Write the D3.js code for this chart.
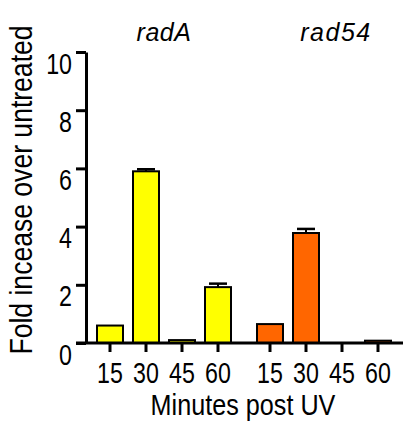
<!DOCTYPE html>
<html>
<head>
<meta charset="utf-8">
<script src="https://cdn.jsdelivr.net/npm/d3@7"></script>
<style>
  html, body { margin: 0; padding: 0; background: #fff; }
  svg { display: block; }
  text { font-family: "Liberation Sans", Arial, sans-serif; fill: #000; }
</style>
</head>
<body>
<svg id="chart" width="403" height="421"></svg>
<script>
// data
const genes = ["radA", "rad54"];
const minutes = [15, 30, 45, 60];
const radAValues = [0.6, 5.9, 0.1, 1.92];
const radAErrors = [0, 0.07, 0, 0.12];
const rad54Values = [0.65, 3.78, 0, 0.08];
const rad54Errors = [0, 0.14, 0, 0];
const yTicks = [0, 2, 4, 6, 8, 10];
const geneColors = ["#ffff00", "#ff6600"];

const data = [];
genes.forEach((g, gi) => {
    const vals = gi === 0 ? radAValues : rad54Values;
    const errs = gi === 0 ? radAErrors : rad54Errors;
    minutes.forEach((m, i) => data.push({gene: g, minute: m, value: vals[i], err: errs[i]}));
});

const svg = d3.select("#chart");
const width = 403, height = 421;
const axisX = 86, x0 = 92, x1 = 396;
const yBottom = 343, yTop = 52;
const squeeze = 0.8; // narrow font look

svg.append("rect").attr("width", width).attr("height", height).attr("fill", "#fff");

const fx = d3.scaleBand().domain(genes).range([x0, x1]).paddingInner(0.1).paddingOuter(0);
const x = d3.scaleBand().domain(minutes).range([0, fx.bandwidth()])
    .paddingInner(8 / 36).paddingOuter(4 / 36);
const y = d3.scaleLinear().domain([0, 10]).range([yBottom, yTop]);
const color = d3.scaleOrdinal().domain(genes).range(geneColors);

// bars
const groups = svg.append("g")
    .selectAll("g")
    .data(d3.group(data, d => d.gene))
    .join("g")
    .attr("transform", ([g]) => `translate(${fx(g)},0)`);

groups.selectAll("rect")
    .data(([, d]) => d.filter(v => v.value > 0))
    .join("rect")
    .attr("x", d => x(d.minute) + 1)
    .attr("y", d => y(d.value))
    .attr("width", x.bandwidth() - 2)
    .attr("height", d => y(0) - y(d.value))
    .attr("fill", d => color(d.gene))
    .attr("stroke", "#000")
    .attr("stroke-width", 2);

// error bars
const eb = groups.selectAll("g.err")
    .data(([, d]) => d.filter(v => v.err > 0))
    .join("g").attr("class", "err");
eb.append("line")
    .attr("x1", d => x(d.minute) + x.bandwidth() / 2)
    .attr("x2", d => x(d.minute) + x.bandwidth() / 2)
    .attr("y1", d => y(d.value))
    .attr("y2", d => y(d.value + d.err))
    .attr("stroke", "#000").attr("stroke-width", 2);
eb.append("line")
    .attr("x1", d => x(d.minute) + x.bandwidth() / 2 - 9)
    .attr("x2", d => x(d.minute) + x.bandwidth() / 2 + 9)
    .attr("y1", d => y(d.value + d.err))
    .attr("y2", d => y(d.value + d.err))
    .attr("stroke", "#000").attr("stroke-width", 2.5);

// y axis
const yAxis = svg.append("g")
    .attr("transform", `translate(${axisX},0)`)
    .call(d3.axisLeft(y).tickValues(yTicks).tickSize(10).tickSizeOuter(0).tickFormat(""));
yAxis.select(".domain").attr("stroke", "#000").attr("stroke-width", 3);
yAxis.selectAll(".tick line").attr("stroke", "#000").attr("stroke-width", 3);
yAxis.selectAll(".tick text").remove();
yAxis.selectAll(".tick").append("text")
    .attr("text-anchor", "end")
    .attr("transform", `translate(-14,21) scale(${squeeze},1)`)
    .style("font-size", "29px")
    .text(d => d);

// x axis line
svg.append("line")
    .attr("x1", axisX - 10).attr("x2", width)
    .attr("y1", y(0)).attr("y2", y(0))
    .attr("stroke", "#000").attr("stroke-width", 3);

// x ticks per group
genes.forEach(g => {
    const ax = svg.append("g")
        .attr("transform", `translate(${fx(g)},${y(0)})`)
        .call(d3.axisBottom(x).tickSize(9).tickSizeOuter(0).tickFormat(""));
    ax.select(".domain").remove();
    ax.selectAll(".tick line").attr("stroke", "#000").attr("stroke-width", 3);
    ax.selectAll(".tick text").remove();
    ax.selectAll(".tick").append("text")
        .attr("text-anchor", "middle")
        .attr("transform", `translate(0,40) scale(${squeeze},1)`)
        .style("font-size", "29px")
        .text(d => d);
});

// gene titles
const titleShift = {radA: 0, rad54: 12};
svg.selectAll("text.title")
    .data(genes)
    .join("text")
    .attr("class", "title")
    .attr("x", g => fx(g) + fx.bandwidth() / 2 + titleShift[g])
    .attr("y", 41)
    .attr("text-anchor", "middle")
    .style("font-size", "25px")
    .style("font-style", "italic")
    .style("letter-spacing", g => g === "rad54" ? "1.5px" : "0.5px")
    .text(g => g);

// axis labels
svg.append("text")
    .attr("text-anchor", "middle")
    .attr("transform", `translate(243,415) scale(0.84,1)`)
    .style("font-size", "30px")
    .text("Minutes post UV");

svg.append("text")
    .attr("text-anchor", "middle")
    .attr("transform", `translate(32,190) rotate(-90) scale(0.83,1)`)
    .style("font-size", "32px")
    .text("Fold incease over untreated");
</script>
</body>
</html>
